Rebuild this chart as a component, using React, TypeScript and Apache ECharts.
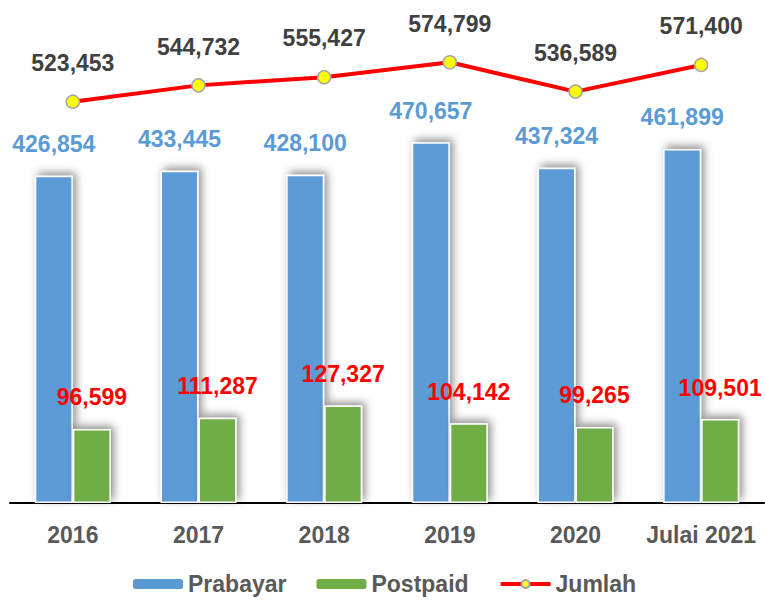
import React, { useEffect, useRef } from "react";
import * as echarts from "echarts";

const categories = ["2016", "2017", "2018", "2019", "2020", "Julai 2021"];
const prabayar = [426854, 433445, 428100, 470657, 437324, 461899];
const postpaid = [96599, 111287, 127327, 104142, 99265, 109501];
const jumlah = [523453, 544732, 555427, 574799, 536589, 571400];

const FONT = "'Liberation Sans', Arial, sans-serif";
const fmt = (v: number) => v.toLocaleString("en-US");

export default function App() {
  const ref = useRef<HTMLDivElement>(null);
  useEffect(() => {
    if (!ref.current) return;
    const chart = echarts.init(ref.current, undefined, { renderer: "svg" });
    const barShadow = {
      borderColor: "#ffffff",
      borderWidth: 1.5,
      shadowColor: "rgba(0,0,0,0.45)",
      shadowBlur: 8,
      shadowOffsetX: 3,
      shadowOffsetY: -3,
    };
    const noShadow = { borderWidth: 0, shadowBlur: 0, shadowOffsetX: 0, shadowOffsetY: 0 };
    chart.setOption({
      animation: false,
      backgroundColor: "#ffffff",
      textStyle: { fontFamily: FONT },
      grid: { left: 10, right: 1, top: 43, bottom: 97, containLabel: false },
      legend: {
        left: 128,
        top: 566,
        itemWidth: 50,
        itemHeight: 10,
        itemGap: 30,
        textStyle: { fontSize: 23, fontWeight: "bold", color: "#595959", fontFamily: FONT, lineHeight: 26 },
        data: [
          { name: "Prabayar", itemStyle: noShadow },
          { name: "Postpaid", itemStyle: noShadow },
          { name: "Jumlah", lineStyle: { width: 4 } },
        ],
      },
      xAxis: {
        type: "category",
        data: categories,
        axisLine: { show: true, lineStyle: { color: "#000000", width: 2 } },
        axisTick: { show: false },
        axisLabel: {
          interval: 0,
          margin: 20,
          fontSize: 23,
          fontWeight: "bold",
          color: "#595959",
          fontFamily: FONT,
        },
      },
      yAxis: {
        type: "value",
        min: 0,
        max: 600000,
        show: false,
        splitLine: { show: false },
      },
      series: [
        {
          name: "Prabayar",
          type: "bar",
          data: prabayar,
          barWidth: 38,
          barGap: "0%",
          itemStyle: { color: "#5B9BD5", ...barShadow },
          label: {
            show: true,
            position: "top",
            distance: 20,
            fontSize: 23,
            fontWeight: "bold",
            color: "#5B9BD5",
            fontFamily: FONT,
            formatter: (p: any) => fmt(p.value),
          },
          emphasis: { disabled: true },
        },
        {
          name: "Postpaid",
          type: "bar",
          data: postpaid,
          barWidth: 38,
          barGap: "0%",
          itemStyle: { color: "#70AD47", ...barShadow },
          label: {
            show: true,
            position: "top",
            distance: 20,
            fontSize: 23,
            fontWeight: "bold",
            color: "#FF0000",
            fontFamily: FONT,
            formatter: (p: any) => fmt(p.value),
          },
          emphasis: { disabled: true },
        },
        {
          name: "Jumlah",
          type: "line",
          data: jumlah,
          z: 5,
          symbol: "circle",
          symbolSize: 13,
          lineStyle: { color: "#FF0000", width: 4 },
          itemStyle: { color: "#FFFF00", borderColor: "#A6A6A6", borderWidth: 1.5 },
          label: {
            show: true,
            position: "top",
            distance: 20,
            fontSize: 23,
            fontWeight: "bold",
            color: "#404040",
            fontFamily: FONT,
            formatter: (p: any) => fmt(p.value),
          },
          emphasis: { disabled: true },
        },
      ],
    });
    return () => chart.dispose();
  }, []);
  return (
    <div
      ref={ref}
      style={{ position: "fixed", left: 0, top: 0, width: 765, height: 600 }}
    />
  );
}
